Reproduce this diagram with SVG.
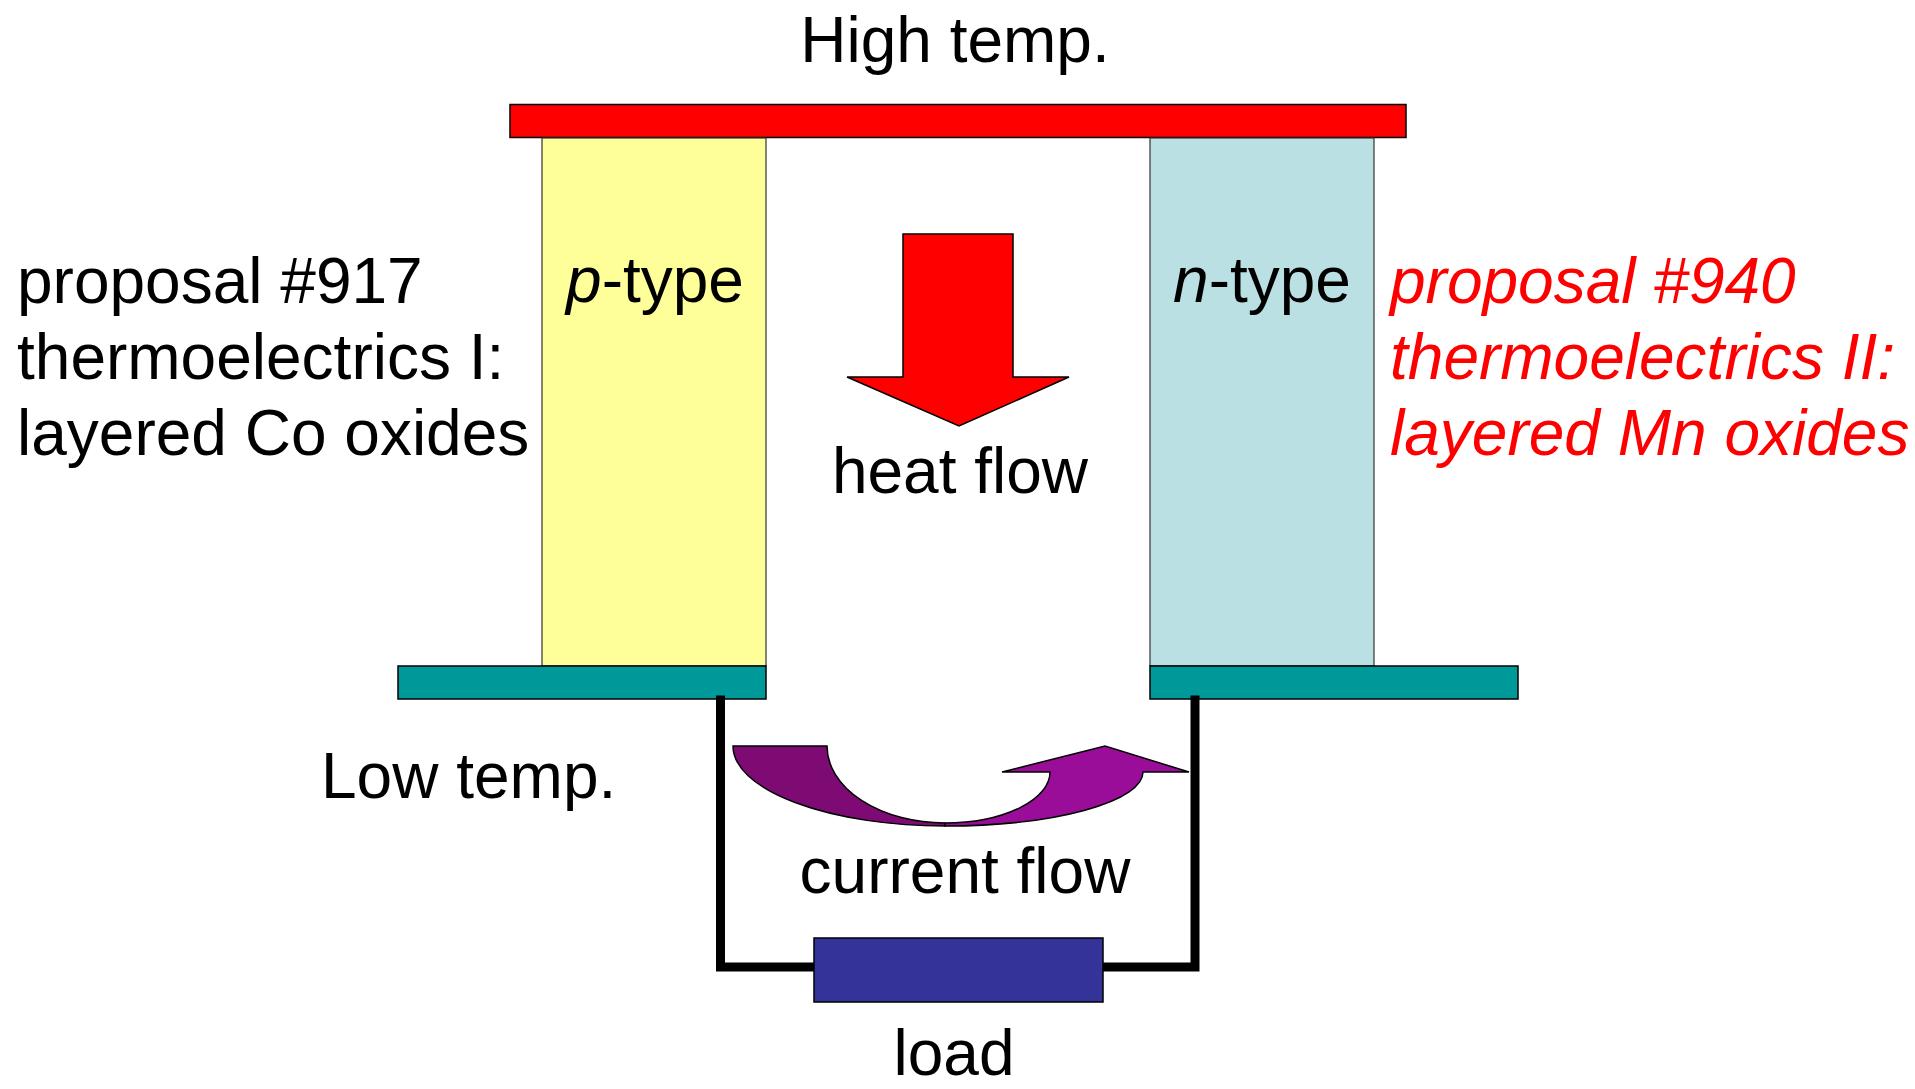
<svg xmlns="http://www.w3.org/2000/svg" width="1915" height="1089" viewBox="0 0 1915 1089">
<style>
text{font-family:"Liberation Sans",Arial,sans-serif;font-size:64px;fill:#000}
.red{fill:#FF0000}
.it{font-style:italic}
.shape{stroke:#000;stroke-width:1.5}
.col{stroke:#333;stroke-width:1.2}
.wire{fill:none;stroke:#000;stroke-width:9;stroke-linejoin:miter;stroke-linecap:square}
</style>
<rect width="1915" height="1089" fill="#fff"/>
<g id="hot-plate"><rect class="shape" x="510" y="104.5" width="896" height="33" fill="#FF0000"/></g>
<g id="p-type"><rect class="col" x="542" y="138" width="224" height="528" fill="#FFFF99"/>
<text x="655" y="302" text-anchor="middle"><tspan class="it">p</tspan>-type</text></g>
<g id="n-type"><rect class="col" x="1150" y="138" width="224" height="528" fill="#BBE0E3"/>
<text x="1262" y="302" text-anchor="middle"><tspan class="it">n</tspan>-type</text></g>
<g id="cold-plate-left"><rect class="shape" x="398" y="666" width="368" height="33" fill="#009999"/></g>
<g id="cold-plate-right"><rect class="shape" x="1150" y="666" width="368" height="33" fill="#009999"/></g>
<g id="connectors">
<path class="wire" d="M720.5,700 V967 H813"/>
<path class="wire" d="M1103,967 H1195 V700"/>
</g>
<g id="load"><rect class="shape" x="814" y="938" width="289" height="64" fill="#333399"/>
<text x="954" y="1075" text-anchor="middle">load</text></g>
<g id="heat-flow">
<path class="shape" fill="#FF0000" d="M903,234 H1013 V377 H1069 L959,426 L847,377 H903 Z"/>
<text x="960" y="493" text-anchor="middle">heat flow</text></g>
<g id="current-flow">
<path class="shape" fill="#7E0B74" d="M733,746 L827,746 A118,77 0 0 0 945,823 L945,826 A212,80 0 0 1 733,746 Z"/>
<path class="shape" fill="#990D99" d="M945,823 A105,51 0 0 0 1050,772 L1002,772 L1105,746 L1189,772 L1143,772 A198,54 0 0 1 945,826 Z"/>
<text x="965" y="893" text-anchor="middle">current flow</text></g>
<g id="labels">
<text x="955" y="62" text-anchor="middle">High temp.</text>
<text x="321" y="798">Low temp.</text>
<text x="17" y="303">proposal #917</text>
<text x="17" y="379">thermoelectrics I:</text>
<text x="17" y="455">layered Co oxides</text>
<text class="red it" x="1390" y="303">proposal #940</text>
<text class="red it" x="1390" y="379">thermoelectrics II:</text>
<text class="red it" x="1390" y="455">layered Mn oxides</text>
</g>
</svg>
